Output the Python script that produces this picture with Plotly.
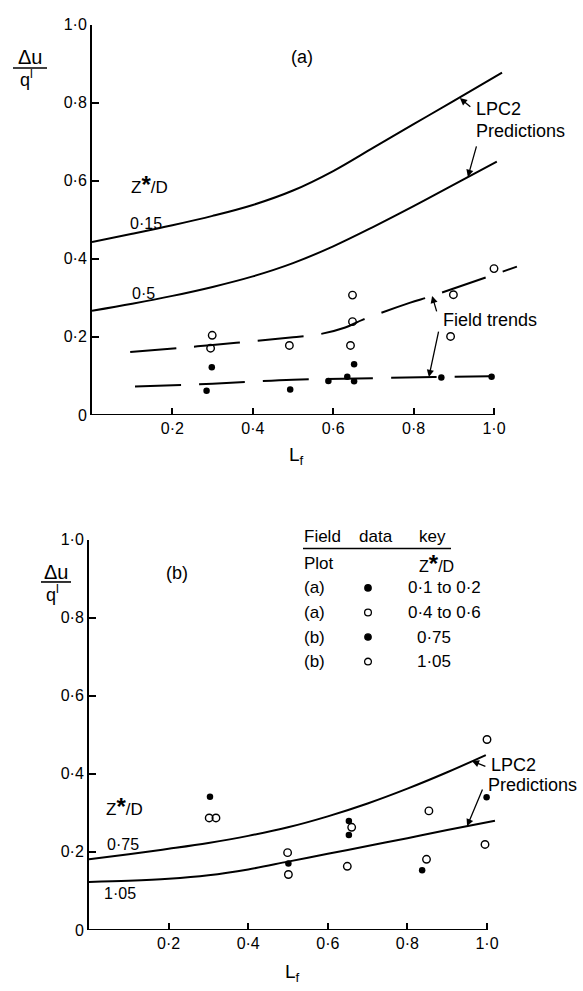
import plotly.graph_objects as go

W, H = 583, 991
FONT = "Liberation Sans, Arial, sans-serif"

# ---------------- Panel (a) ----------------
# LPC2 predictions, Z*/D = 0.15
lf_a_015 = [0.0, 0.1, 0.2, 0.3, 0.4, 0.5, 0.6, 0.7, 0.8, 0.9, 1.02]
du_a_015 = [0.443, 0.464, 0.486, 0.510, 0.538, 0.575, 0.625, 0.685, 0.745, 0.805, 0.877]
# LPC2 predictions, Z*/D = 0.5
lf_a_05 = [0.0, 0.1, 0.2, 0.3, 0.4, 0.5, 0.6, 0.7, 0.8, 0.9, 1.007]
du_a_05 = [0.267, 0.285, 0.305, 0.328, 0.355, 0.389, 0.432, 0.482, 0.535, 0.590, 0.649]
# Field trends
lf_a_trend_hi = [0.095, 0.22, 0.3, 0.41, 0.5, 0.567, 0.63, 0.674, 0.79, 0.846, 1.057]
du_a_trend_hi = [0.161, 0.172, 0.179, 0.190, 0.199, 0.207, 0.224, 0.244, 0.287, 0.305, 0.380]
lf_a_trend_lo = [0.107, 0.3, 0.5, 0.7, 0.85, 0.99]
du_a_trend_lo = [0.073, 0.080, 0.090, 0.094, 0.097, 0.099]
# Field data
lf_a_filled = [0.298, 0.285, 0.493, 0.588, 0.635, 0.652, 0.652, 0.869, 0.994]
du_a_filled = [0.122, 0.062, 0.065, 0.087, 0.098, 0.086, 0.130, 0.096, 0.098]
lf_a_open = [0.299, 0.295, 0.491, 0.648, 0.648, 0.643, 0.899, 0.892, 1.0]
du_a_open = [0.204, 0.171, 0.178, 0.307, 0.239, 0.178, 0.308, 0.201, 0.375]

# ---------------- Panel (b) ----------------
lf_b_075 = [0.0, 0.1, 0.2, 0.3, 0.4, 0.5, 0.6, 0.7, 0.8, 0.9, 0.997]
du_b_075 = [0.181, 0.194, 0.208, 0.223, 0.241, 0.263, 0.291, 0.324, 0.362, 0.404, 0.448]
lf_b_105 = [0.0, 0.1, 0.2, 0.3, 0.4, 0.5, 0.6, 0.7, 0.8, 0.9, 1.02]
du_b_105 = [0.123, 0.126, 0.131, 0.140, 0.155, 0.175, 0.195, 0.215, 0.235, 0.256, 0.280]
lf_b_filled = [0.304, 0.501, 0.653, 0.653, 0.837, 0.999]
du_b_filled = [0.341, 0.170, 0.279, 0.243, 0.153, 0.340]
lf_b_open = [0.302, 0.319, 0.499, 0.501, 0.660, 0.649, 0.854, 0.848, 1.0, 0.995]
du_b_open = [0.287, 0.287, 0.198, 0.142, 0.263, 0.163, 0.305, 0.181, 0.488, 0.219]

# Axis ticks
x_ticks = [0.2, 0.4, 0.6, 0.8, 1.0]
x_tick_text = ["0·2", "0·4", "0·6", "0·8", "1·0"]
y_ticks = [0, 0.2, 0.4, 0.6, 0.8, 1.0]
y_tick_text = ["0", "0·2", "0·4", "0·6", "0·8", "1·0"]

# Field data key rows
key_plots = ["(a)", "(a)", "(b)", "(b)"]
key_filled = [True, False, True, False]
key_ranges = ["0·1 to 0·2", "0·4 to 0·6", "0·75", "1·05"]


def px(x, y):
    """pixel position -> paper coordinates"""
    return x / W, 1 - y / H


fig = go.Figure()

solid = dict(color="black", width=2, shape="spline", smoothing=1.0)
dashed = dict(color="black", width=2, shape="spline", smoothing=1.0, dash="46px,18px")
filled_mk = dict(symbol="circle", size=6.5, color="black")
open_mk = dict(symbol="circle-open", size=7.5, color="black", line=dict(width=1.4, color="black"))

# panel (a)
fig.add_trace(go.Scatter(x=lf_a_015, y=du_a_015, mode="lines", line=solid, xaxis="x", yaxis="y"))
fig.add_trace(go.Scatter(x=lf_a_05, y=du_a_05, mode="lines", line=solid, xaxis="x", yaxis="y"))
fig.add_trace(go.Scatter(x=lf_a_trend_hi, y=du_a_trend_hi, mode="lines", line=dashed, xaxis="x", yaxis="y"))
fig.add_trace(go.Scatter(x=lf_a_trend_lo, y=du_a_trend_lo, mode="lines", line=dashed, xaxis="x", yaxis="y"))
fig.add_trace(go.Scatter(x=lf_a_filled, y=du_a_filled, mode="markers", marker=filled_mk, xaxis="x", yaxis="y"))
fig.add_trace(go.Scatter(x=lf_a_open, y=du_a_open, mode="markers", marker=open_mk, xaxis="x", yaxis="y"))

# panel (b)
fig.add_trace(go.Scatter(x=lf_b_075, y=du_b_075, mode="lines", line=solid, xaxis="x2", yaxis="y2"))
fig.add_trace(go.Scatter(x=lf_b_105, y=du_b_105, mode="lines", line=solid, xaxis="x2", yaxis="y2"))
fig.add_trace(go.Scatter(x=lf_b_filled, y=du_b_filled, mode="markers", marker=filled_mk, xaxis="x2", yaxis="y2"))
fig.add_trace(go.Scatter(x=lf_b_open, y=du_b_open, mode="markers", marker=open_mk, xaxis="x2", yaxis="y2"))

tickfont = dict(family=FONT, size=16, color="black")
xcommon = dict(range=[0, 1.07], tickvals=x_ticks, ticktext=x_tick_text, ticks="inside",
               ticklen=7, tickwidth=2, tickcolor="black", showgrid=False, zeroline=False,
               showline=False, tickfont=tickfont, ticklabelstandoff=2)
ycommon = dict(range=[0, 1.0], tickvals=y_ticks, ticktext=y_tick_text, ticks="inside",
               ticklen=7, tickwidth=2, tickcolor="black", showgrid=False, zeroline=False,
               showline=True, linecolor="black", linewidth=2, tickfont=tickfont,
               ticklabelstandoff=0)

xa0, xa1 = 92, 92 + 1.07 * 402
xb0, xb1 = 89, 89 + 1.07 * 398
fig.update_layout(
    width=W, height=H, margin=dict(l=0, r=0, t=0, b=0),
    paper_bgcolor="white", plot_bgcolor="rgba(0,0,0,0)", showlegend=False,
    font=dict(family=FONT, color="black"),
    xaxis=dict(xcommon, domain=[xa0 / W, xa1 / W], anchor="y"),
    yaxis=dict(ycommon, domain=[1 - 414 / H, 1 - 17 / H], anchor="x"),
    xaxis2=dict(xcommon, domain=[xb0 / W, xb1 / W], anchor="y2"),
    yaxis2=dict(ycommon, domain=[1 - 938 / H, 1 - 541 / H], anchor="x2"),
)

# x axis lines stop at Lf = 1.0
for xr, yr in (("x", "y"), ("x2", "y2")):
    fig.add_shape(type="line", xref=xr, yref=yr, x0=0, x1=1.0, y0=0, y1=0,
                  line=dict(color="black", width=2))

ann = []


def text(x, y, s, size=18, xanchor="left", yanchor="middle"):
    xp, yp = px(x, y)
    ann.append(dict(x=xp, y=yp, xref="paper", yref="paper", text=s, showarrow=False,
                    xanchor=xanchor, yanchor=yanchor,
                    font=dict(family=FONT, size=size, color="black")))


def arrow(xr, yr, x, y, ax, ay):
    ann.append(dict(x=x, y=y, xref=xr, yref=yr, ax=ax, ay=ay, text="", showarrow=True,
                    arrowhead=2, arrowsize=1.1, arrowwidth=1.3, arrowcolor="black",
                    standoff=0))


zlabel = "Z<span style='font-size:24px'><b>*</b></span>/D"

# y-axis fraction labels
for (cx, ytop, yline, ybot, x0, x1) in ((30, 50, 61, 72, 13, 47), (56, 574, 584, 596, 41, 71)):
    text(cx, ytop, "Δu", size=20, xanchor="center")
    text(cx - 4, ybot, "q<sup>l</sup>", size=18, xanchor="center")
    a0, b0 = px(x0, yline)
    a1, b1 = px(x1, yline)
    fig.add_shape(type="line", xref="paper", yref="paper", x0=a0, x1=a1, y0=b0, y1=b1,
                  line=dict(color="black", width=1.6))

# panel (a) labels
text(302, 50, "(a)", xanchor="center")
text(474, 103, "LPC2")
text(474, 125, "Predictions")
text(129, 180, zlabel, size=17)
text(128, 219, "0·15", size=16)
text(130, 290, "0·5", size=16)
text(441, 317, "Field trends")
text(296, 456, "L<sub>f</sub>", size=19, xanchor="center")
arrow("x", "y", 0.915, 0.812, 12, 10)
arrow("x", "y", 0.935, 0.610, 9, -32)
arrow("x", "y", 0.846, 0.305, 5, 17)
arrow("x", "y", 0.838, 0.097, 10, -47)

# panel (b) labels
text(177, 575, "(b)", xanchor="center")
text(489, 770, "LPC2")
text(486, 791, "Predictions")
text(104, 812, zlabel, size=17)
text(105, 851, "0·75", size=16)
text(102, 901, "1·05", size=16)
text(292, 982, "L<sub>f</sub>", size=19, xanchor="center")
arrow("x2", "y2", 0.962, 0.433, 15, 6)
arrow("x2", "y2", 0.950, 0.266, 16, -38)

# field data key
text(302, 538, "Field", size=17)
text(357, 538, "data", size=17)
text(417, 538, "key", size=17)
a0, b0 = px(303, 550)
a1, b1 = px(451, 550)
fig.add_shape(type="line", xref="paper", yref="paper", x0=a0, x1=a1, y0=b0, y1=b1,
              line=dict(color="black", width=1.6))
text(302, 565, "Plot", size=17)
text(417, 565, zlabel, size=16)
for i, (pl, fl, rg) in enumerate(zip(key_plots, key_filled, key_ranges)):
    yy = 590 + 25 * i
    text(302, yy, pl, size=17)
    if i < 2:
        text(406, yy, rg, size=17)
    else:
        text(434, yy, rg, size=17, xanchor="center")
    r = 3.2 if fl else 3.4
    c0x, c0y = px(368 - r, yy - r)
    c1x, c1y = px(368 + r, yy + r)
    fig.add_shape(type="circle", xref="paper", yref="paper", x0=c0x, x1=c1x, y0=c0y, y1=c1y,
                  fillcolor="black" if fl else "white", line=dict(color="black", width=1.3))

fig.update_layout(annotations=ann)
fig.write_html("out.html")
